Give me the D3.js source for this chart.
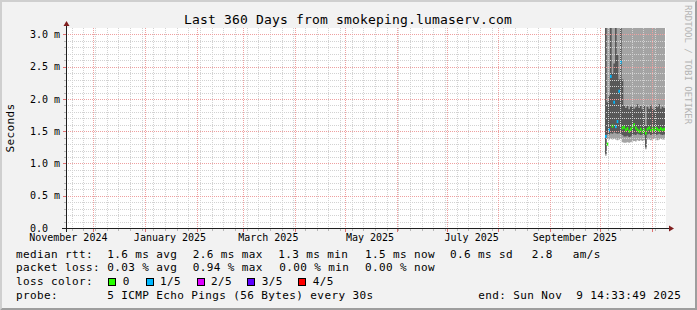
<!DOCTYPE html>
<html>
<head>
<meta charset="utf-8">
<script src="https://cdn.jsdelivr.net/npm/d3@7"></script>
<style>
  body { margin: 0; background: #fff; }
  text { font-family: "DejaVu Sans Mono", monospace; white-space: pre; }
</style>
</head>
<body>
<div id="chart"></div>
<script>
// smokeping values (ms), one entry per day from 4 Oct 2025
var dataStart = new Date(2025, 9, 4)
var ping1 = [1.12, 1.38, 1.37, 1.38, 1.37, 1.38, 1.37, 1.36, 1.37, 1.38, 1.33, 1.32, 1.32, 1.33, 1.32, 1.33, 1.34, 1.35,
  1.34, 1.36, 1.35, 1.36, 1.35, 1.36, 1.22, 1.37, 1.37, 1.36, 1.37, 1.38, 1.37, 1.36, 1.37, 1.38, 1.37, 1.37]
var ping2 = [1.15, 1.45, 1.45, 1.47, 1.46, 1.48, 1.47, 1.46, 1.47, 1.46, 1.44, 1.42, 1.42, 1.43, 1.41, 1.42, 1.44, 1.45,
  1.44, 1.46, 1.45, 1.44, 1.45, 1.44, 1.25, 1.45, 1.46, 1.44, 1.45, 1.46, 1.44, 1.45, 1.46, 1.45, 1.44, 1.45]
var median = [1.42, 1.30, 1.52, 2.35, 1.58, 1.95, 1.57, 1.65, 2.12, 2.57, 1.55, 1.56, 1.52, 1.54, 1.50, 1.53, 1.57, 1.60,
  1.55, 1.52, 1.50, 1.53, 1.49, 1.52, 1.47, 1.53, 1.55, 1.51, 1.54, 1.52, 1.55, 1.53, 1.51, 1.54, 1.52, 1.53]
var ping4 = [3.4, 1.95, 2.05, 3.4, 2.4, 2.55, 3.4, 2.68, 2.3, 3.4, 2.3, 1.9, 1.86, 1.89, 1.84, 1.88, 1.9, 1.85,
  1.87, 1.92, 1.86, 1.89, 1.84, 1.9, 1.58, 1.88, 1.85, 1.91, 1.86, 1.83, 1.89, 1.87, 1.92, 1.85, 1.88, 1.86]
var ping5 = [3.6, 3.5, 3.5, 3.6, 3.5, 3.5, 3.6, 3.5, 3.5, 3.6, 3.5, 3.4, 3.4, 3.4, 3.4, 3.4, 3.4, 3.4,
  3.4, 3.4, 3.4, 3.4, 3.4, 3.4, 3.4, 3.4, 3.4, 3.4, 3.4, 3.4, 3.4, 3.4, 3.4, 3.4, 3.4, 3.4]
var loss = [1, 0, 1, 1, 0, 1, 1, 1, 1, 1, 0, 0, 0, 0, 0, 0, 0, 0,
  0, 0, 0, 0, 0, 0, 0, 0, 0, 0, 0, 0, 0, 0, 0, 0, 0, 0]

var lossColors = ["#26ff00", "#00b8ff", "#dd00ff", "#5e00ff", "#ff0000"]
var lossLabels = ["0", "1/5", "2/5", "3/5", "4/5"]

var yTicks = [0, 0.5, 1, 1.5, 2, 2.5, 3]
var yTickLabels = ["0.0", "0.5 m", "1.0 m", "1.5 m", "2.0 m", "2.5 m", "3.0 m"]
var monthLabelDates = [new Date(2024, 10, 1), new Date(2025, 0, 1), new Date(2025, 2, 1),
  new Date(2025, 4, 1), new Date(2025, 6, 1), new Date(2025, 8, 1)]
var monthLabels = ["November 2024", "January 2025", "March 2025", "May 2025", "July 2025", "September 2025"]

var titleText = "Last 360 Days from smokeping.lumaserv.com"
var legendRows = [
  [["median rtt:", 16], ["1.6 ms avg", 107.3], ["2.6 ms max", 192.7], ["1.3 ms min", 278.3],
   ["1.5 ms now", 365], ["0.6 ms sd", 450], ["2.8", 531.7], ["am/s", 572.7]],
  [["packet loss:", 16], ["0.03 % avg", 107.3], ["0.94 % max", 192.7], ["0.00 % min", 279.3], ["0.00 % now", 365]],
  [["loss color:", 16]],
  [["probe:", 16], ["5 ICMP Echo Pings (56 Bytes) every 30s", 107.3], ["end: Sun Nov  9 14:33:49 2025", 478.3]]
]

var W = 697, H = 310
var X0 = 66, X1 = 666, Y0 = 228, Y1 = 28

var endTime = new Date(2025, 10, 9, 14, 33, 49)
var startTime = d3.timeDay.offset(endTime, -360)

var x = d3.scaleTime().domain([startTime, endTime]).range([X0, X1])
var y = d3.scaleLinear().domain([0, 3.1]).range([Y0, Y1])

var svg = d3.select("#chart").append("svg")
  .attr("width", W).attr("height", H)
var defs = svg.append("defs")

// dotted grid patterns: 1px on, 1px off
function dotPattern(id, color, horizontal) {
  var p = defs.append("pattern").attr("id", id)
    .attr("patternUnits", "userSpaceOnUse")
    .attr("width", 2).attr("height", 2)
  p.append("rect").attr("x", 0).attr("y", 0).attr("width", 1).attr("height", 1).attr("fill", color)
  if (horizontal) p.append("rect").attr("x", 0).attr("y", 1).attr("width", 1).attr("height", 1).attr("fill", color)
  else p.append("rect").attr("x", 1).attr("y", 0).attr("width", 1).attr("height", 1).attr("fill", color)
}
dotPattern("hgrid", "#d2d2d2", true)
dotPattern("vgrid", "#d2d2d2", false)
dotPattern("hmgrid", "#eea0a0", true)
dotPattern("vmgrid", "#eea0a0", false)

// background + 3d frame
svg.append("rect").attr("width", W).attr("height", H).attr("fill", "#f2f2f2")
svg.append("path").attr("fill", "#cfcfcf")
  .attr("d", "M0,0H" + W + "L" + (W - 2) + ",2H2V" + (H - 2) + "L0," + H + "Z")
svg.append("path").attr("fill", "#9e9e9e")
  .attr("d", "M" + W + "," + H + "H0L2," + (H - 2) + "H" + (W - 2) + "V2L" + W + ",0Z")

svg.append("rect").attr("x", X0).attr("y", Y1).attr("width", X1 - X0).attr("height", Y0 - Y1)
  .attr("fill", "#fff")

defs.append("clipPath").attr("id", "plot")
  .append("rect").attr("x", X0).attr("y", Y1).attr("width", X1 - X0).attr("height", Y0 - Y1)

// smoke
var days = d3.timeDay.range(dataStart, d3.timeDay.offset(dataStart, ping1.length))
var pts = days.map(function (d, i) {
  return { t: d, p1: ping1[i], p2: ping2[i], med: median[i], p4: ping4[i], p5: ping5[i], loss: loss[i] }
})
var last = pts[pts.length - 1]
var areaPts = pts.concat([Object.assign({}, last, { t: d3.timeDay.offset(last.t, 1) })])

var g = svg.append("g").attr("clip-path", "url(#plot)")

g.append("path").datum(areaPts)
  .attr("fill", "#a4a4a4")
  .attr("d", d3.area().curve(d3.curveStepAfter)
    .x(function (d) { return x(d.t) })
    .y0(function (d) { return y(d.p1) })
    .y1(function (d) { return y(d.p5) }))

g.append("path").datum(areaPts)
  .attr("fill", "#585858")
  .attr("d", d3.area().curve(d3.curveStepAfter)
    .x(function (d) { return x(d.t) })
    .y0(function (d) { return y(d.p2) })
    .y1(function (d) { return y(d.p4) }))

// median, coloured by loss
g.selectAll(".med").data(pts).enter().append("line")
  .attr("x1", function (d) { return x(d.t) })
  .attr("x2", function (d) { return x(d3.timeDay.offset(d.t, 1)) })
  .attr("y1", function (d) { return y(d.med) })
  .attr("y2", function (d) { return y(d.med) })
  .attr("stroke", function (d) { return lossColors[d.loss] })
  .attr("stroke-width", 3)

// grid
var grid = svg.append("g").attr("shape-rendering", "crispEdges")
var yMinor = d3.range(1, 31).filter(function (i) { return i % 5 !== 0 }).map(function (i) { return i / 10 })
var weeks = d3.timeMonday.range(startTime, endTime)
var months = d3.timeMonth.range(startTime, endTime)

function hLines(vals, x1, pat, tickColor) {
  var gg = grid.append("g")
  gg.selectAll("rect").data(vals).enter().append("rect")
    .attr("x", X0 + 1).attr("width", X1 - X0 - 1)
    .attr("y", function (d) { return Math.round(y(d)) }).attr("height", 1)
    .attr("fill", "url(#" + pat + ")")
  gg.selectAll("line").data(vals).enter().append("line")
    .attr("x1", x1).attr("x2", X0)
    .attr("y1", function (d) { return Math.round(y(d)) + 0.5 })
    .attr("y2", function (d) { return Math.round(y(d)) + 0.5 })
    .attr("stroke", tickColor)
}
function vLines(vals, y1, pat, tickColor) {
  var gg = grid.append("g")
  gg.selectAll("rect").data(vals).enter().append("rect")
    .attr("y", Y1).attr("height", Y0 - Y1)
    .attr("x", function (d) { return Math.round(x(d)) }).attr("width", 1)
    .attr("fill", "url(#" + pat + ")")
  gg.selectAll("line").data(vals).enter().append("line")
    .attr("y1", Y0 + 1).attr("y2", y1)
    .attr("x1", function (d) { return Math.round(x(d)) + 0.5 })
    .attr("x2", function (d) { return Math.round(x(d)) + 0.5 })
    .attr("stroke", tickColor)
}
hLines(yMinor, X0 - 2, "hgrid", "#b8b8b8")
vLines(weeks, Y0 + 3, "vgrid", "#b8b8b8")
hLines(yTicks.slice(1), X0 - 3, "hmgrid", "#e07070")
vLines(months, Y0 + 4, "vmgrid", "#e07070")

// axes with arrows
svg.append("line").attr("shape-rendering", "crispEdges")
  .attr("x1", X0 - 4).attr("x2", X1 + 3).attr("y1", Y0 + 0.5).attr("y2", Y0 + 0.5)
  .attr("stroke", "#1f1f1f")
svg.append("line").attr("shape-rendering", "crispEdges")
  .attr("x1", X0 + 0.5).attr("x2", X0 + 0.5).attr("y1", Y0 + 4).attr("y2", Y1 - 2)
  .attr("stroke", "#1f1f1f")
svg.append("path").attr("fill", "#801f1f")
  .attr("d", "M" + (X1 + 3) + "," + (Y0 - 2.5) + "L" + (X1 + 8) + "," + (Y0 + 0.5) + "L" + (X1 + 3) + "," + (Y0 + 3.5) + "Z")
svg.append("path").attr("fill", "#801f1f")
  .attr("d", "M" + (X0 - 2.5) + "," + (Y1 - 2) + "L" + (X0 + 0.5) + "," + (Y1 - 7) + "L" + (X0 + 3.5) + "," + (Y1 - 2) + "Z")

// axis labels
svg.selectAll(".ylab").data(yTicks).enter().append("text")
  .attr("x", 30).attr("y", function (d) { return y(d) })
  .attr("dy", "0.36em")
  .attr("font-size", 10)
  .text(function (d, i) { return yTickLabels[i] })

svg.selectAll(".xlab").data(monthLabelDates).enter().append("text")
  .attr("x", function (d) { return x(d3.timeDay.offset(d, 15)) })
  .attr("y", 241)
  .attr("text-anchor", "middle")
  .attr("font-size", 10)
  .text(function (d, i) { return monthLabels[i] })

svg.append("text")
  .attr("x", 348).attr("y", 24)
  .attr("text-anchor", "middle")
  .attr("font-size", 13)
  .attr("letter-spacing", 0.17)
  .text(titleText)

svg.append("text")
  .attr("transform", "translate(14," + ((Y0 + Y1) / 2) + ") rotate(-90)")
  .attr("text-anchor", "middle")
  .attr("font-size", 11)
  .attr("letter-spacing", 0.38)
  .text("Seconds")

svg.append("text")
  .attr("transform", "translate(685,5) rotate(90)")
  .attr("font-size", 9)
  .attr("fill", "#b4b4b4")
  .text("RRDTOOL / TOBI OETIKER")

// legend
var rowY = [257.7, 271.3, 285.3, 298.7]
legendRows.forEach(function (row, r) {
  svg.append("g").selectAll("text").data(row).enter().append("text")
    .attr("x", function (d) { return d[1] })
    .attr("y", rowY[r])
    .attr("font-size", 11)
    .attr("letter-spacing", 0.38)
    .text(function (d) { return d[0] })
})

var boxX = [108, 145.7, 196.7, 247.3, 298.3]
var boxLabelX = [122.7, 160, 211, 261.7, 312.7]
lossColors.forEach(function (c, k) {
  svg.append("rect")
    .attr("x", Math.round(boxX[k]) + 0.5).attr("y", 278.5)
    .attr("width", 7).attr("height", 7)
    .attr("fill", c).attr("stroke", "#000")
  svg.append("text")
    .attr("x", boxLabelX[k]).attr("y", rowY[2])
    .attr("font-size", 11)
    .attr("letter-spacing", 0.38)
    .text(lossLabels[k])
})
</script>
</body>
</html>
